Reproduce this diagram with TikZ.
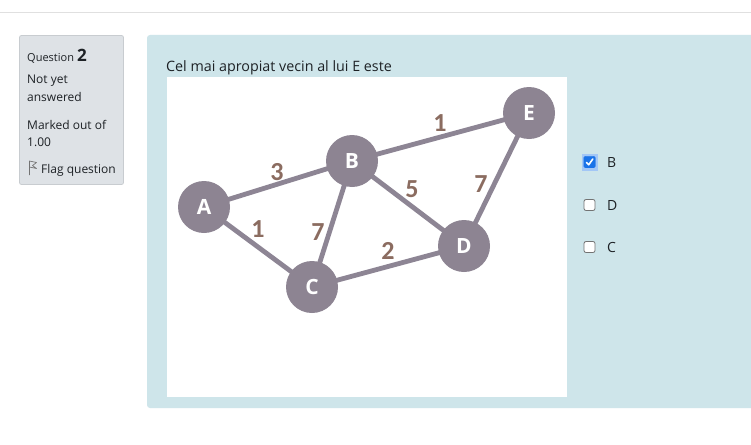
\documentclass[tikz,border=0pt]{standalone}
\usepackage{fontspec}
\setmainfont{Open Sans}
\newfontfamily\lblfont{Carlito}
\definecolor{nodecol}{RGB}{141,132,146}
\definecolor{edgecol}{RGB}{141,133,148}
\definecolor{lblcol}{RGB}{139,108,96}
\definecolor{infobg}{RGB}{206,229,234}
\definecolor{grayp}{RGB}{222,226,230}
\definecolor{grayline}{RGB}{200,204,208}
\definecolor{txt}{RGB}{29,33,37}
\definecolor{chkblue}{RGB}{26,115,232}
\begin{document}
\begin{tikzpicture}[x=1pt,y=-1pt,
  gnode/.style={circle,fill=nodecol,minimum size=52pt,inner sep=0pt,text=white,font=\fontsize{21}{21}\selectfont\bfseries},
  gedge/.style={draw=edgecol,line width=4.8pt},
  wlbl/.style={text=lblcol,font=\lblfont\fontsize{26}{26}\selectfont\bfseries,inner sep=0pt},
  uitxt/.style={text=txt,anchor=base west,inner sep=0pt,font=\fontsize{12}{14}\selectfont},
  cbox/.style={draw=black!55,fill=white,rounded corners=2pt,line width=0.8pt,minimum size=11pt,inner sep=0pt},
  optlbl/.style={text=txt,anchor=base west,inner sep=0pt,font=\fontsize{14}{16}\selectfont}]
\useasboundingbox (0,0) rectangle (751,444);
\fill[white] (0,0) rectangle (751,444);
% top line
\draw[black!12,line width=1pt] (0,13) -- (751,13);
% left info panel
\draw[grayline,fill=grayp,rounded corners=2pt,line width=0.8pt] (19.5,35.5) rectangle (123.5,184.5);
\node[uitxt,font=\fontsize{11}{13}\selectfont] (q) at (27,61) {Question};
\node[uitxt,font=\fontsize{17}{17}\selectfont\bfseries,anchor=base west] (qn) at (q.base east) {\,2};
\node[uitxt] (s1) at (27,83) {Not yet};
\node[uitxt] (s2) at (27,101) {answered};
\node[uitxt] (m1) at (27,129) {Marked out of};
\node[uitxt] (m2) at (27,146) {1.00};
\node[uitxt] (fl) at (41,173) {Flag question};
\draw[black!55,line width=0.7pt,line join=round] (29.5,175) -- (29.5,161) -- (36.5,162.5) -- (32.5,165.5) -- (36.5,168.5) -- (29.5,167);
% main info panel
\fill[infobg,rounded corners=3pt] (147,35) rectangle (760,408);
\node[text=txt,anchor=base west,inner sep=0pt,font=\fontsize{14.3}{17}\selectfont] (title) at (166,71) {Cel mai apropiat vecin al lui E este};
% image
\fill[white] (167,77) rectangle (567,397);
% graph
\coordinate (pA) at (204,207);
\coordinate (pB) at (352,161);
\coordinate (pE) at (529,113);
\coordinate (pD) at (464,246);
\coordinate (pC) at (312,287);
\path[gedge] (pA) -- (pB);
\path[gedge] (pA) -- (pC);
\path[gedge] (pB) -- (pC);
\path[gedge] (pB) -- (pE);
\path[gedge] (pB) -- (pD);
\path[gedge] (pC) -- (pD);
\path[gedge] (pD) -- (pE);
\node[gnode] (A) at (pA) {A};
\node[gnode] (B) at (pB) {B};
\node[gnode] (E) at (pE) {E};
\node[gnode] (D) at (pD) {D};
\node[gnode] (C) at (pC) {C};
\node[wlbl] (l3) at (277,172) {3};
\node[wlbl] (l1a) at (258,229) {1};
\node[wlbl] (l7a) at (318,232) {7};
\node[wlbl] (l1b) at (440,123) {1};
\node[wlbl] (l5) at (412,189) {5};
\node[wlbl] (l7b) at (481,184) {7};
\node[wlbl] (l2) at (388,251) {2};
% options
\fill[chkblue!40] (581.5,153.5) rectangle (597.5,170.5);
\node[draw=chkblue,fill=chkblue,rounded corners=1.5pt,minimum size=11.5pt,inner sep=0pt] (cb) at (589.5,162) {};
\draw[white,line width=1.6pt,line cap=round,line join=round] (586.5,162.5) -- (588.7,164.8) -- (592.8,159);
\node[cbox] (cd) at (589.5,205) {};
\node[cbox] (cc) at (589.5,247) {};
\node[optlbl] (ob) at (607,167.5) {B};
\node[optlbl] (od) at (607,210.5) {D};
\node[optlbl] (oc) at (607,252.5) {C};
\end{tikzpicture}
\end{document}
